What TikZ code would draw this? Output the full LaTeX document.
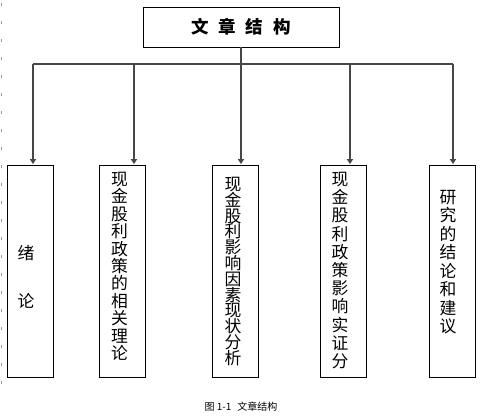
\documentclass[tikz,border=0pt]{standalone}
\usepackage{fontspec}
\newfontfamily\cjk{Noto Sans CJK SC}
\usetikzlibrary{arrows.meta}
\begin{document}
\begin{tikzpicture}[x=1pt,y=1pt,
  box/.style={draw=black, line width=0.8pt, minimum width=46pt, minimum height=212pt, inner sep=0pt},
  col/.style={anchor=north, align=center, inner sep=0pt, font=\cjk\fontsize{16.8}{#1}\selectfont},
  link/.style={draw=black!72, line width=1.3pt},
  arr/.style={link, -{Triangle[width=6pt,length=5pt]}, shorten >=0.5pt}]
\useasboundingbox (0,0) rectangle (492,418);
% word margin marks
\draw[black!40, line width=0.8pt, dash pattern=on 3pt off 15pt] (1.5,415) -- (1.5,28);
% top box
\node[draw=black, line width=0.8pt, minimum width=196pt, minimum height=40pt, inner sep=0pt,
      font=\cjk\bfseries\fontsize{17.5}{17.5}\selectfont] (top) at (241,391)
      {文\hspace{10pt}章\hspace{10pt}结\hspace{10pt}构};
% boxes
\node[box] (b1) at (30,147) {};
\node[box] (b2) at (122,147) {};
\node[box] (b3) at (235.5,147) {};
\node[box] (b4) at (343,147) {};
\node[box] (b5) at (452.5,147) {};
% texts
\node[inner sep=0pt, font=\cjk\fontsize{16.8}{16.8}\selectfont] (t1a) at (26,165) {绪};
\node[inner sep=0pt, font=\cjk\fontsize{16.8}{16.8}\selectfont] (t1b) at (26,117) {论};
\node[col=17.4] (t2) at (119.5,246) {现\\金\\股\\利\\政\\策\\的\\相\\关\\理\\论};
\node[col=15.8] (t3) at (233,241) {现\\金\\股\\利\\影\\响\\因\\素\\现\\状\\分\\析};
\node[col=18.2] (t4) at (340,246) {现\\金\\股\\利\\政\\策\\影\\响\\实\\证\\分};
\node[col=18.5] (t5) at (448,228) {研\\究\\的\\结\\论\\和\\建\\议};
% connectors
\coordinate (h1) at (33,354);
\coordinate (h2) at (134,354);
\coordinate (h3) at (241,354);
\coordinate (h4) at (350,354);
\coordinate (h5) at (453,354);
\draw[link] (top.south) -- (top.south |- h3);
\draw[link] (h1) -- (h5);
\draw[arr] (h1) -- (h1 |- b1.north);
\draw[arr] (h2) -- (h2 |- b2.north);
\draw[arr] (h3) -- (h3 |- b3.north);
\draw[arr] (h4) -- (h4 |- b4.north);
\draw[arr] (h5) -- (h5 |- b5.north);
% caption
\node[inner sep=0pt, font=\cjk\fontsize{10}{10}\selectfont] (cap) at (241,11) {图 1-1\hspace{6pt}文章结构};
\end{tikzpicture}
\end{document}
